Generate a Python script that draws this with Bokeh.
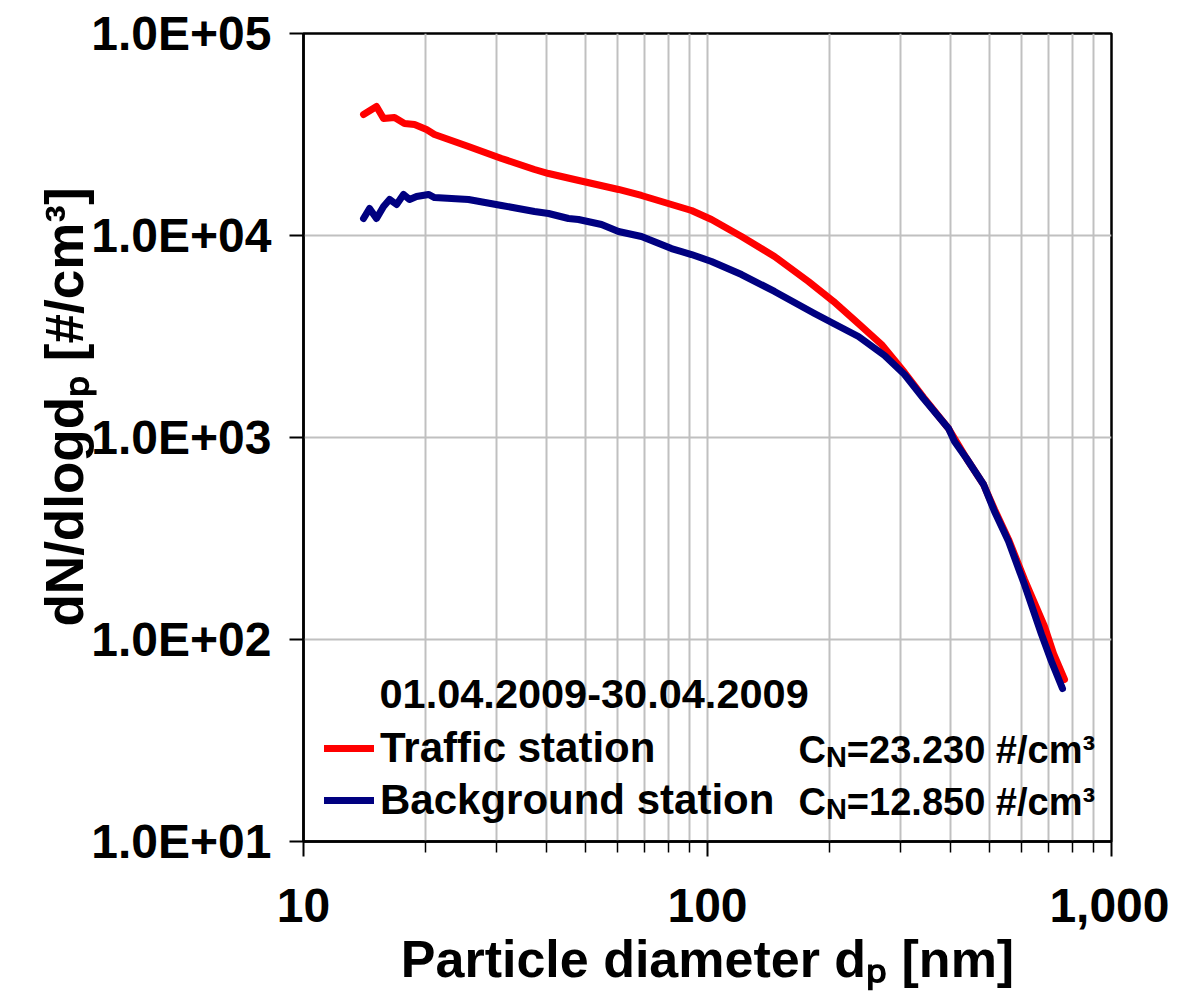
from bokeh.plotting import figure
from bokeh.models import (Range1d, FixedTicker, CustomJSTickFormatter, Label,
                          Legend, LegendItem, Title)
from bokeh.embed import file_html
from bokeh.resources import INLINE

# ---------------- data ----------------
diam_traffic = [14.08, 15.16, 15.78, 16.80, 17.78, 18.83, 20.16, 21.10, 25.61, 30.92,
                37.31, 40.42, 46.86, 60.22, 68.64, 81.44, 91.29, 102.3, 121.4, 146.5,
                177.8, 205.1, 236.4, 269.7, 307.4, 342.5, 395.0, 437.7, 482.3, 513.4,
                556.0, 609.0, 682.6, 718.6, 765.0]
dn_traffic = [39720, 43510, 37950, 38390, 35850, 35440, 33480, 31620, 27590, 24060,
              21220, 20270, 18930, 16900, 15780, 14240, 13300, 12000, 9890, 7870,
              5920, 4713, 3667, 2886, 2098, 1578, 1108, 787, 585, 440,
              313, 198, 116, 85.2, 63.4]

diam_background = [14.08, 14.57, 15.16, 15.78, 16.33, 17.00, 17.68, 18.30, 19.05, 20.39,
                   21.10, 25.61, 30.92, 37.31, 40.42, 45.29, 47.94, 54.66, 60.22, 68.64,
                   81.44, 91.29, 102.3, 121.4, 146.5, 184.0, 205.1, 236.4, 274.3, 307.4,
                   342.5, 395.0, 408.8, 437.7, 482.3, 513.4, 556.0, 609.0, 671.0, 710.4,
                   756.3]
dn_background = [12140, 13610, 12140, 13920, 15080, 14240, 15960, 15080, 15600, 15960,
                 15420, 15080, 14080, 13150, 12850, 12140, 12000, 11340, 10470, 9890,
                 8620, 8050, 7435, 6410, 5283, 4110, 3667, 3162, 2546, 2051,
                 1560, 1108, 955, 787, 585, 430, 306, 187, 106, 77.8,
                 57.2]

series_names = ["Traffic station", "Background station"]
cn_values = ["=23.230 #/cm³", "=12.850 #/cm³"]
period_text = "01.04.2009-30.04.2009"
x_title = "Particle diameter dₚ [nm]"
y_title = "dN/dlogdₚ [#/cm³]"

x_ticks = [10, 100, 1000]
x_tick_labels = ["10", "100", "1,000"]
y_ticks = [10, 100, 1000, 10000, 100000]
y_tick_labels = ["1.0E+01", "1.0E+02", "1.0E+03", "1.0E+04", "1.0E+05"]

# ---------------- styling ----------------
FONT = "Liberation Sans"
RED = "#FF0000"
NAVY = "#000080"
GRID = "#C0C0C0"

# Liberation Sans Bold advance widths (1/1000 em) for composing the C_N sub-script
W = {'C': 722, 'N': 722}


def tw(s, size):
    return sum(W.get(c, 556) for c in s) / 1000.0 * size


p = figure(x_axis_type="log", y_axis_type="log",
           x_range=Range1d(10, 1000), y_range=Range1d(10, 100000),
           frame_width=808, frame_height=808,
           min_border_left=303, min_border_right=58, min_border_top=33,
           min_border_bottom=150,
           output_backend="svg", toolbar_location=None,
           background_fill_color="white", border_fill_color="white")

p.outline_line_color = "black"
p.outline_line_width = 2.5

FMT_CODE = """
const i = tv.findIndex(t => Math.abs(Math.log10(t) - Math.log10(tick)) < 1e-6);
return i >= 0 ? tl[i] : '';
"""

# x axis
p.xaxis.ticker = FixedTicker(ticks=x_ticks,
                             minor_ticks=[m * 10 ** k for k in (1, 2) for m in range(2, 10)])
p.xaxis.formatter = CustomJSTickFormatter(args=dict(tv=x_ticks, tl=x_tick_labels),
                                          code=FMT_CODE)
# y axis
p.yaxis.ticker = FixedTicker(ticks=y_ticks, minor_ticks=[])
p.yaxis.formatter = CustomJSTickFormatter(args=dict(tv=y_ticks, tl=y_tick_labels),
                                          code=FMT_CODE)

for ax in (p.xaxis[0], p.yaxis[0]):
    ax.axis_line_color = "black"
    ax.axis_line_width = 2.5
    ax.major_tick_line_color = "black"
    ax.major_tick_line_width = 2
    ax.minor_tick_line_color = "black"
    ax.minor_tick_line_width = 1.5
    ax.major_tick_in = 0
    ax.minor_tick_in = 0
    ax.major_label_text_font = FONT
    ax.major_label_text_font_style = "bold"
    ax.major_label_text_font_size = "48px"
    ax.major_label_text_color = "black"

p.xaxis.major_tick_out = 15
p.xaxis.minor_tick_out = 11
p.xaxis.major_label_standoff = 32
p.xaxis.axis_label = x_title
p.xaxis.axis_label_text_font = FONT
p.xaxis.axis_label_text_font_style = "bold"
p.xaxis.axis_label_text_font_size = "52px"
p.xaxis.axis_label_text_color = "black"
p.xaxis.axis_label_standoff = 5

p.yaxis.major_tick_out = 14
p.yaxis.minor_tick_out = 0
p.yaxis.major_label_standoff = 18
p.yaxis.axis_label = None

# y title as a side Title so it can be shifted like the reference
p.add_layout(Title(text=y_title, align="left", offset=215, standoff=-10,
                   text_font=FONT, text_font_style="bold", text_font_size="53px",
                   text_color="black"), "left")

p.xgrid.grid_line_color = GRID
p.xgrid.grid_line_width = 2
p.xgrid.minor_grid_line_color = GRID
p.xgrid.minor_grid_line_width = 2
p.ygrid.grid_line_color = GRID
p.ygrid.grid_line_width = 2
p.ygrid.minor_grid_line_color = None

# curves
r_traffic = p.line(diam_traffic, dn_traffic, line_color=RED, line_width=7,
                   line_join="round", line_cap="round")
r_background = p.line(diam_background, dn_background, line_color=NAVY, line_width=7,
                      line_join="round", line_cap="round")

# legend
legend = Legend(items=[LegendItem(label=series_names[0], renderers=[r_traffic]),
                       LegendItem(label=series_names[1], renderers=[r_background])],
                location=(21, 17), padding=0, margin=0, spacing=4,
                glyph_width=50, glyph_height=30, label_standoff=6,
                label_text_font=FONT, label_text_font_style="bold",
                label_text_font_size="42px", label_text_color="black",
                border_line_color=None, background_fill_alpha=0)
p.add_layout(legend)


def add_text(x, y, text, size):
    p.add_layout(Label(x=x, y=y, x_units="screen", y_units="screen", text=text,
                       text_font=FONT, text_font_style="bold",
                       text_font_size=f"{size:.1f}px", text_color="black",
                       text_align="left", text_baseline="middle"))


# period label
add_text(76, 148, period_text, 41.5)

# C_N labels
CN_SIZE = 38
SUB_CN = 29
cn_x = 495
for yc, val in zip((92, 40), cn_values):
    x = cn_x
    add_text(x, yc, "C", CN_SIZE)
    x += tw("C", CN_SIZE)
    add_text(x, yc - 7, "N", SUB_CN)
    x += tw("N", SUB_CN)
    add_text(x, yc, val, CN_SIZE)

open("out.html", "w").write(file_html(p, INLINE))
